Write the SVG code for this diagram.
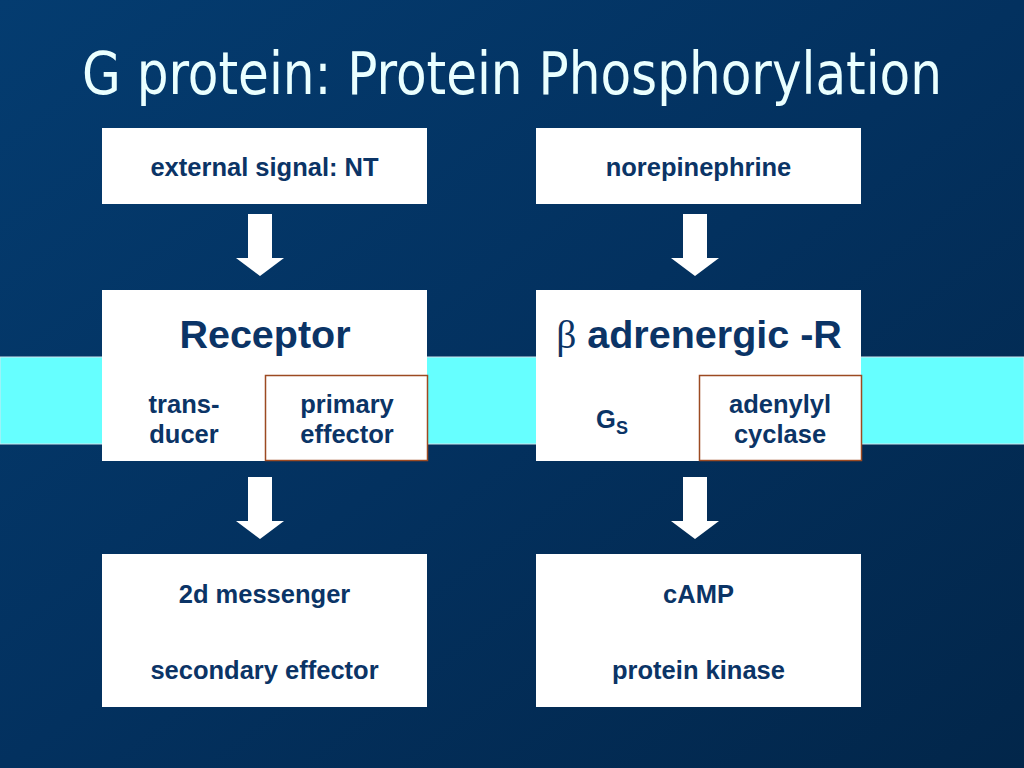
<svg xmlns="http://www.w3.org/2000/svg" width="1024" height="768" viewBox="0 0 1024 768">
  <defs>
    <linearGradient id="bg" x1="0" y1="0" x2="1" y2="1">
      <stop offset="0" stop-color="#043c70"/>
      <stop offset="0.5" stop-color="#03315f"/>
      <stop offset="1" stop-color="#02264a"/>
    </linearGradient>
    <polygon id="arrow" points="-12,0 12,0 12,44 24,44 0,62 -24,44 -12,44"/>
  </defs>
  <style>
    .box { fill: #ffffff; }
    .inner { fill: #ffffff; stroke: #9c4a22; stroke-width: 1.5; }
    .lbl { font-family: "Liberation Sans", Arial, sans-serif; font-weight: bold; font-size: 25.5px; fill: #0b3466; text-anchor: middle; }
    .big { font-size: 39.5px; }
    .arr { fill: #ffffff; }
  </style>
  <rect x="0" y="0" width="1024" height="768" fill="url(#bg)"/>
  <rect x="0" y="357" width="1024" height="87" fill="#66ffff" stroke="#cfe8f0" stroke-width="1"/>
  <text x="512" y="94" font-family="DejaVu Sans Condensed, DejaVu Sans, Liberation Sans, sans-serif" font-stretch="condensed" font-size="58" fill="#eaffff" text-anchor="middle" textLength="860" lengthAdjust="spacingAndGlyphs">G protein: Protein Phosphorylation</text>

  <g id="n-signal">
    <rect class="box" x="102" y="128" width="325" height="76"/>
    <text class="lbl" x="264.5" y="176">external signal: NT</text>
  </g>
  <g id="n-norepinephrine">
    <rect class="box" x="536" y="128" width="325" height="76"/>
    <text class="lbl" x="698.5" y="176">norepinephrine</text>
  </g>
  <g id="n-receptor">
    <rect class="box" x="102" y="290" width="325" height="171"/>
    <text class="lbl big" x="265" y="348">Receptor</text>
    <text class="lbl" x="184" y="413">trans-</text>
    <text class="lbl" x="184" y="443">ducer</text>
  </g>
  <g id="n-primary-effector">
    <rect class="inner" x="265.5" y="375.5" width="162" height="85"/>
    <text class="lbl" x="347" y="413">primary</text>
    <text class="lbl" x="347" y="443">effector</text>
  </g>
  <g id="n-beta-receptor">
    <rect class="box" x="536" y="290" width="325" height="171"/>
    <text class="lbl big" x="699" y="348"><tspan font-family="Liberation Serif, serif" font-weight="normal">β</tspan> adrenergic -R</text>
    <text class="lbl" x="612" y="428">G<tspan font-size="18" dy="6">S</tspan></text>
  </g>
  <g id="n-adenylyl-cyclase">
    <rect class="inner" x="699.5" y="375.5" width="162" height="85"/>
    <text class="lbl" x="780" y="413">adenylyl</text>
    <text class="lbl" x="780" y="443">cyclase</text>
  </g>
  <g id="n-second-messenger">
    <rect class="box" x="102" y="554" width="325" height="77"/>
    <rect class="box" x="102" y="631" width="325" height="76"/>
    <text class="lbl" x="264.5" y="603">2d messenger</text>
    <text class="lbl" x="264.5" y="679">secondary effector</text>
  </g>
  <g id="n-camp">
    <rect class="box" x="536" y="554" width="325" height="77"/>
    <rect class="box" x="536" y="631" width="325" height="76"/>
    <text class="lbl" x="698.5" y="603">cAMP</text>
    <text class="lbl" x="698.5" y="679">protein kinase</text>
  </g>

  <g id="connectors" class="arr">
    <use href="#arrow" x="260" y="214"/>
    <use href="#arrow" x="695" y="214"/>
    <use href="#arrow" x="260" y="477"/>
    <use href="#arrow" x="695" y="477"/>
  </g>
</svg>
